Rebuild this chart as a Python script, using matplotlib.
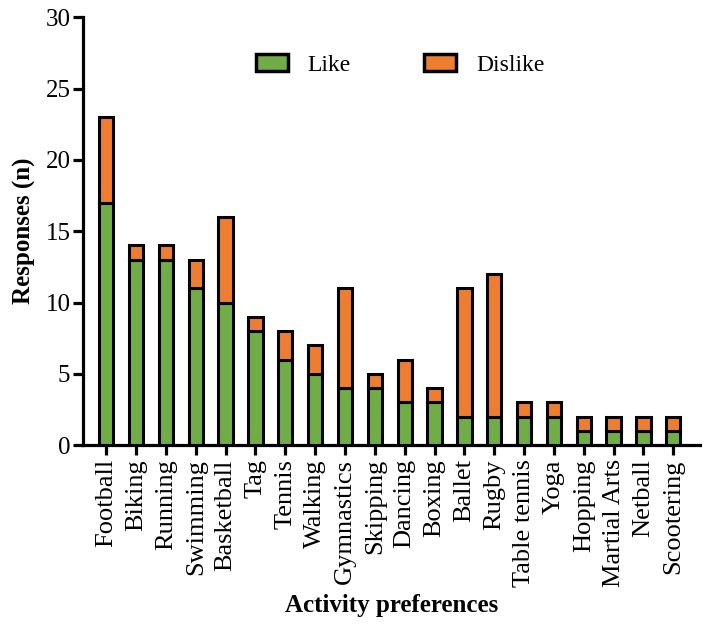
import matplotlib
matplotlib.use("Agg")
import matplotlib.pyplot as plt
import numpy as np

activities = ["Football", "Biking", "Running", "Swimming", "Basketball", "Tag", "Tennis",
              "Walking", "Gymnastics", "Skipping", "Dancing", "Boxing", "Ballet", "Rugby",
              "Table tennis", "Yoga", "Hopping", "Martial Arts", "Netball", "Scootering"]
like = [17, 13, 13, 11, 10, 8, 6, 5, 4, 4, 3, 3, 2, 2, 2, 2, 1, 1, 1, 1]
dislike = [6, 1, 1, 2, 6, 1, 2, 2, 7, 1, 3, 1, 9, 10, 1, 1, 1, 1, 1, 1]
yticks = [0, 5, 10, 15, 20, 25, 30]

plt.rcParams['font.family'] = ['Liberation Serif', 'DejaVu Serif']

fig = plt.figure(figsize=(7.03, 6.37), dpi=100)
ax = fig.add_axes([0.118, 0.301, 0.878, 0.672])

x = np.arange(len(activities))
green = "#70AD47"
orange = "#ED7D31"
w = 0.48
ax.bar(x, like, width=w, color=green, edgecolor="black", linewidth=2.2, label="Like", zorder=3)
ax.bar(x, dislike, width=w, bottom=like, color=orange, edgecolor="black", linewidth=2.2,
       label="Dislike", zorder=3)

ax.set_xlim(-0.78, 19.9)
ax.set_ylim(0, 30)
ax.set_yticks(yticks)
ax.set_yticklabels([str(v) for v in yticks], fontsize=18)
ax.set_xticks(x)
ax.set_xticklabels(activities, rotation=90, fontsize=19)
for s in ["top", "right"]:
    ax.spines[s].set_visible(False)
for s in ["left", "bottom"]:
    ax.spines[s].set_linewidth(2.3)
ax.tick_params(axis="both", width=2.3, length=7, color="black")
ax.tick_params(axis="y", pad=2)
ax.tick_params(axis="x", pad=3)

ax.set_ylabel("Responses (n)", fontsize=18, fontweight="bold", labelpad=7)
ax.set_xlabel("Activity preferences", fontsize=18, fontweight="bold", labelpad=5)

leg = ax.legend(loc="center", bbox_to_anchor=(0.514, 0.888), ncol=2, frameon=False,
                fontsize=17, handlelength=1.36, handleheight=0.68, columnspacing=3.1,
                handletextpad=0.85)
for p in leg.get_patches():
    p.set_linewidth(2.5)

fig.savefig("out.png", dpi=100)
